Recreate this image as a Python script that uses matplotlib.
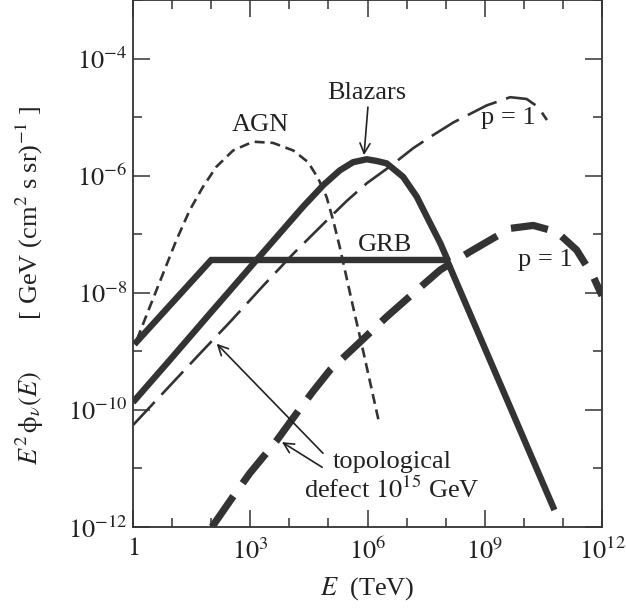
import numpy as np
import matplotlib.pyplot as plt
from matplotlib.ticker import FixedLocator, NullFormatter

plt.rcParams.update({
    "font.family": "Liberation Serif",
    "mathtext.fontset": "stix",
    "font.size": 19,
})

ink = '#333333'

# curves, as (log10 E/TeV, log10 E^2 phi)
agn_lx = [0.10, 0.43, 0.77, 1.11, 1.45, 1.79, 2.13, 2.56, 3.07, 3.58, 4.10, 4.48, 4.74,
          4.95, 5.12, 5.29, 5.46, 5.63, 5.84, 6.28]
agn_ly = [-8.80, -8.24, -7.67, -7.10, -6.59, -6.19, -5.85, -5.57, -5.42, -5.44, -5.57, -5.77, -6.05,
          -6.36, -6.76, -7.22, -7.73, -8.24, -8.85, -10.17]

blz_lx = [0.05, 0.94, 2.00, 3.16, 3.80, 4.35, 4.87, 5.29, 5.63, 5.98, 6.24, 6.49, 6.91,
          7.26, 7.60, 7.86, 8.03]
blz_ly = [-9.83, -9.15, -8.33, -7.44, -6.95, -6.53, -6.16, -5.91, -5.77, -5.72, -5.75, -5.79, -6.02,
          -6.36, -6.81, -7.15, -7.41]

grb_lx = [0.09, 2.00, 8.03, 10.75]
grb_ly = [-8.84, -7.44, -7.44, -11.66]

td1_lx = [0.0, 1.71, 2.48, 3.33, 4.09, 5.04, 5.47, 5.98, 6.58, 7.17, 7.60, 8.20, 9.05,
          9.65, 10.07, 10.37, 10.59]
td1_ly = [-10.26, -9.04, -8.50, -7.88, -7.34, -6.71, -6.43, -6.13, -5.84, -5.53, -5.34, -5.09, -4.80,
          -4.66, -4.69, -4.83, -5.05]

td2_lx = [2.02, 2.56, 2.99, 3.68, 4.27, 4.61, 5.04, 5.81, 6.49, 7.17, 7.86, 8.62, 9.65,
          10.24, 10.84, 11.35, 11.78, 12.0]
td2_ly = [-12.0, -11.48, -11.08, -10.52, -9.98, -9.68, -9.32, -8.84, -8.41, -8.01, -7.61, -7.30, -6.90,
          -6.85, -6.96, -7.27, -7.73, -8.05]

xticks_major = [0, 3, 6, 9, 12]
xticks_minor = [1, 2, 4, 5, 7, 8, 10, 11]
yticks_major = [-12, -10, -8, -6, -4]
yticks_minor = [-11, -9, -7, -5, -3]
xlabels = ['$1$', '$10^{3}$', '$10^{6}$', '$10^{9}$', '$10^{12}$']
ylabels = ['$10^{-12}$', '$10^{-10}$', '$10^{-8}$', '$10^{-6}$', '$10^{-4}$']

def p(v):
    return 10.0 ** np.asarray(v)

fig = plt.figure(figsize=(6.26, 6.13), dpi=100)
ax = fig.add_axes([0.2125, 0.1403, 0.7492, 0.8597])

ax.plot(p(agn_lx), p(agn_ly), color=ink, lw=1.9, dashes=(3.8, 2.2))
ax.plot(p(td1_lx), p(td1_ly), color=ink, lw=1.9, dashes=(12, 3.8), dash_capstyle='butt')
ax.plot(p(td2_lx), p(td2_ly), color=ink, lw=5.2, dashes=(5.2, 2.2), dash_capstyle='butt',
        dash_joinstyle='round')
ax.plot(p(blz_lx), p(blz_ly), color=ink, lw=4.6, solid_joinstyle='round')
ax.plot(p(grb_lx), p(grb_ly), color=ink, lw=4.6, solid_joinstyle='miter')

ax.set_xscale('log')
ax.set_yscale('log')
ax.set_xlim(1, 1e12)
ax.set_ylim(1e-12, 1e-3)

ax.xaxis.set_major_locator(FixedLocator(p(xticks_major)))
ax.xaxis.set_minor_locator(FixedLocator(p(xticks_minor)))
ax.yaxis.set_major_locator(FixedLocator(p(yticks_major)))
ax.yaxis.set_minor_locator(FixedLocator(p(yticks_minor)))
ax.set_xticklabels(xlabels)
ax.set_yticklabels(ylabels)
ax.xaxis.set_minor_formatter(NullFormatter())
ax.yaxis.set_minor_formatter(NullFormatter())
ax.tick_params(which='both', direction='in', top=True, right=True, color=ink, width=1.1, labelcolor='#222222')
ax.tick_params(which='major', length=12.5)
ax.tick_params(which='minor', length=6.5)
ax.tick_params(axis='x', pad=8)
ax.tick_params(axis='y', pad=4)
for s in ax.spines.values():
    s.set_color(ink)
    s.set_linewidth(1.3)

tc = '#222222'
ax.text(p(3.25), p(-5.14), 'AGN', ha='center', va='center', color=tc)
ax.text(p(5.99), p(-4.59), 'Blazars', ha='center', va='center', color=tc)
ax.text(p(6.45), p(-7.19), 'GRB', ha='center', va='center', color=tc)
ax.text(p(9.6), p(-5.02), 'p = 1', ha='center', va='center', color=tc)
ax.text(p(10.54), p(-7.44), 'p = 1', ha='center', va='center', color=tc)
ax.text(p(6.63), p(-10.89), 'topological', ha='center', va='center', color=tc)
ax.text(p(6.63), p(-11.37), r'defect $10^{15}$ GeV', ha='center', va='center', color=tc)

arw = dict(arrowstyle='->', color=tc, lw=1.2, shrinkA=0, shrinkB=0,
           mutation_scale=18)
ax.annotate('', xy=(p(5.91), p(-5.65)), xytext=(p(6.01), p(-4.83)), arrowprops=arw)
ax.annotate('', xy=(p(2.14), p(-8.87)), xytext=(p(4.86), p(-10.74)), arrowprops=arw)
ax.annotate('', xy=(p(3.81), p(-10.55)), xytext=(p(4.84), p(-10.98)), arrowprops=arw)

ax.set_xlabel('$E$  (TeV)', color=tc, labelpad=8)
fig.text(30 / 626, 1 - 285 / 613,
         r'$E^2\,\mathrm{\phi}_\nu(E)$        [ GeV (cm$^2$ s sr)$^{-1}$ ]',
         rotation=90, ha='center', va='center', color=tc, fontsize=19)

fig.savefig('out.png', dpi=100)
